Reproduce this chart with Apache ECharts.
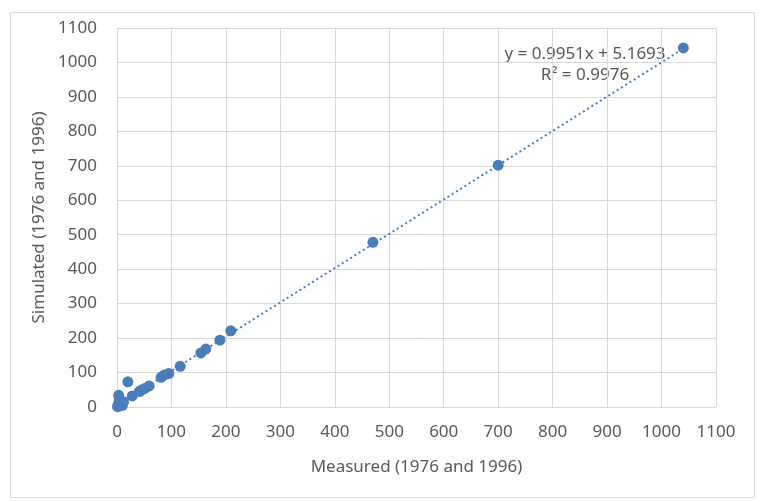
<!DOCTYPE html>
<html>
<head>
<meta charset="utf-8">
<style>
  html, body { margin: 0; padding: 0; background: #fff; }
  #chart { width: 762px; height: 502px; }
</style>
<script src="https://cdn.jsdelivr.net/npm/echarts@6/dist/echarts.min.js"></script>
</head>
<body>
<div id="chart"></div>
<script>
// measured vs simulated (1976 and 1996)
var measured = [1040, 700, 470, 209, 189, 163, 154, 116, 95, 87, 81, 59, 51, 45, 41, 28, 20, 3, 4, 6, 12, 2, 5, 8, 1, 10];
var simulated = [1042, 702, 478, 221, 194, 168, 157, 118, 97, 93, 86, 61, 54, 49, 45, 32, 73, 34, 20, 11, 15, 6, 3, 8, 1, 5];
var axisTicks = [0, 100, 200, 300, 400, 500, 600, 700, 800, 900, 1000, 1100];
// linear trendline from Excel
var slope = 0.9951;
var intercept = 5.1693;
var rSquared = 0.9976;

var textColor = "#595959";
var font = "'Noto Sans', 'Open Sans', sans-serif";

var points = measured.map(function(x, i) {
  return [x, simulated[i]];
});
var xMin = Math.min.apply(null, measured);
var xMax = Math.max.apply(null, measured);
var trend = [
  [xMin, slope * xMin + intercept],
  [xMax, slope * xMax + intercept]
];

var myChart = echarts.init(document.getElementById("chart"));

var axisCommon = {
  type: "value",
  min: axisTicks[0],
  max: axisTicks[axisTicks.length - 1],
  interval: 100,
  nameLocation: "middle",
  nameTextStyle: { color: textColor, fontSize: 17, fontFamily: font },
  axisLine: { show: false },
  axisTick: { show: false },
  axisLabel: {
    color: textColor,
    fontSize: 17,
    fontFamily: font,
    formatter: function(v) {
      return String(v);
    }
  },
  splitLine: { lineStyle: { color: "#d9d9d9", width: 1 } }
};

var option = {
  animation: false,
  grid: { left: 117, right: 46, top: 28, bottom: 95 },
  xAxis: Object.assign({}, axisCommon, {
    name: "Measured (1976 and 1996)",
    nameGap: 52,
    axisLabel: Object.assign({}, axisCommon.axisLabel, { margin: 17 })
  }),
  yAxis: Object.assign({}, axisCommon, {
    name: "Simulated (1976 and 1996)",
    nameGap: 60,
    axisLabel: Object.assign({}, axisCommon.axisLabel, { margin: 20 })
  }),
  graphic: [
    {
      type: "rect",
      left: 8,
      top: 10,
      shape: { width: 744, height: 485 },
      style: { fill: "none", stroke: "#d9d9d9", lineWidth: 1 },
      silent: true
    },
    {
      type: "text",
      x: 585,
      y: 54,
      style: {
        text: "y = " + slope + "x + " + intercept,
        fill: textColor,
        font: "17px " + font,
        align: "center",
        verticalAlign: "middle"
      }
    },
    {
      type: "text",
      x: 585,
      y: 75,
      style: {
        text: "R² = " + rSquared,
        fill: textColor,
        font: "17px " + font,
        align: "center",
        verticalAlign: "middle"
      }
    }
  ],
  series: [
    {
      type: "scatter",
      data: points,
      symbolSize: 11,
      itemStyle: { color: "#4a7ebb", opacity: 1 },
      z: 2
    },
    {
      type: "line",
      data: trend,
      symbol: "none",
      lineStyle: { color: "#4a7ebb", width: 2, type: [2, 3] },
      z: 3
    }
  ]
};

myChart.setOption(option);
</script>
</body>
</html>
